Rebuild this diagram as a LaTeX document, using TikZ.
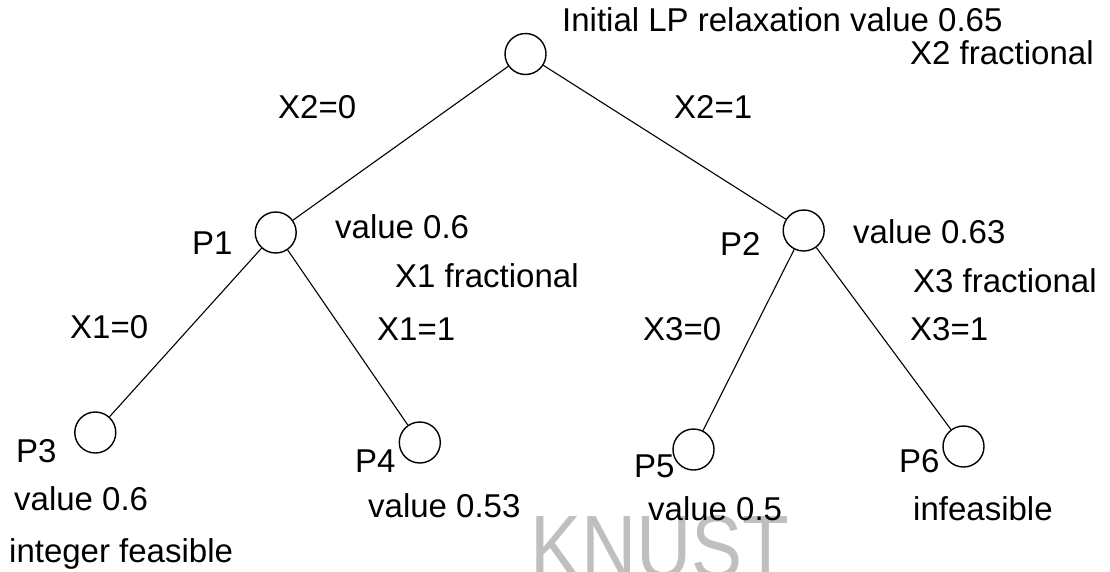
\documentclass[tikz,border=0pt]{standalone}
\usepackage{fontspec}
\setmainfont{Liberation Sans}
\begin{document}
\begin{tikzpicture}[x=1pt,y=-1pt,
  nd/.style={circle,draw,line width=1.4pt,minimum size=41pt,inner sep=0pt},
  edge/.style={line width=1.1pt},
  lbl/.style={inner sep=0pt,anchor=base west,font=\fontsize{33}{40}\selectfont},
  wm/.style={inner sep=0pt,anchor=base west,text=black!25,xscale=0.85,font=\fontsize{90}{100}\selectfont}]
\useasboundingbox (0,0) rectangle (1110,571);
\node[wm] (knust) at (530,578) {KNUST};
\node[nd] (r) at (525.5,54) {};
\node[nd] (p1) at (275.7,232.5) {};
\node[nd] (p2) at (803.7,230.5) {};
\node[nd] (p3) at (95.3,432.5) {};
\node[nd] (p4) at (419.8,442.5) {};
\node[nd] (p5) at (693.5,449.5) {};
\node[nd] (p6) at (963.5,446.5) {};
\draw[edge] (r) -- (p1);
\draw[edge] (r) -- (p2);
\draw[edge] (p1) -- (p3);
\draw[edge] (p1) -- (p4);
\draw[edge] (p2) -- (p5);
\draw[edge] (p2) -- (p6);
\node[lbl] (t0) at (562,31) {Initial LP relaxation value 0.65};
\node[lbl] (t1) at (910,64) {X2 fractional};
\node[lbl] (e1) at (278,118) {X2=0};
\node[lbl] (e2) at (674,118) {X2=1};
\node[lbl] (n1) at (192,254) {P1};
\node[lbl] (v1) at (335,238) {value 0.6};
\node[lbl] (f1) at (395,287) {X1 fractional};
\node[lbl] (e3) at (70,338) {X1=0};
\node[lbl] (e4) at (377,340) {X1=1};
\node[lbl] (n2) at (720,255) {P2};
\node[lbl] (v2) at (853,243) {value 0.63};
\node[lbl] (f2) at (913,292) {X3 fractional};
\node[lbl] (e5) at (643,340) {X3=0};
\node[lbl] (e6) at (910,340) {X3=1};
\node[lbl] (n3) at (16,462) {P3};
\node[lbl] (v3) at (14,510) {value 0.6};
\node[lbl] (s3) at (9,562) {integer feasible};
\node[lbl] (n4) at (355,472) {P4};
\node[lbl] (v4) at (368,517) {value 0.53};
\node[lbl] (n5) at (634,477) {P5};
\node[lbl] (v5) at (648,520) {value 0.5};
\node[lbl] (n6) at (899,472) {P6};
\node[lbl] (s6) at (913,520) {infeasible};
\end{tikzpicture}
\end{document}
